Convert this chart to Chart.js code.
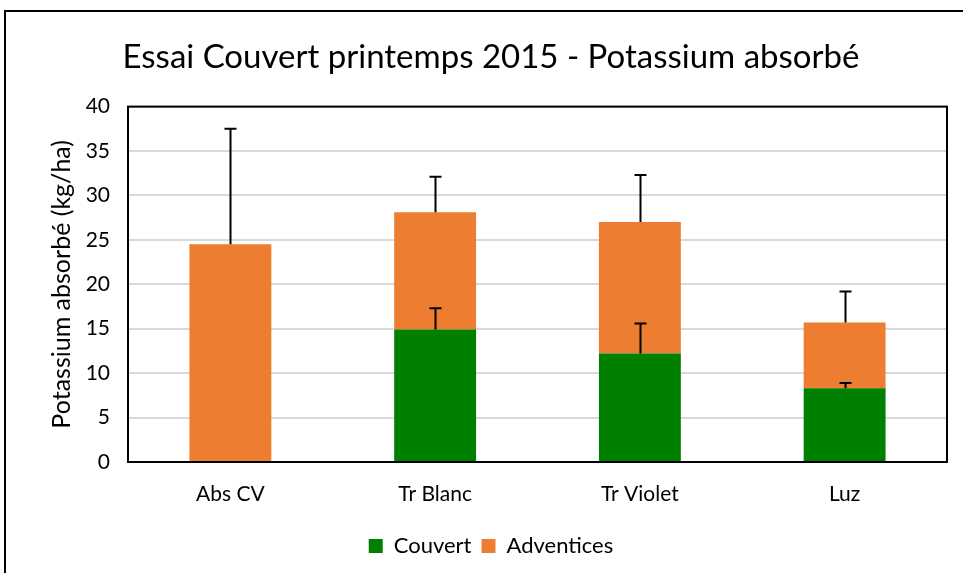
<!DOCTYPE html>
<html>
<head>
<meta charset="utf-8">
<script src="https://cdn.jsdelivr.net/npm/chart.js@4.4.1/dist/chart.umd.min.js"></script>
<style>
  html, body { margin: 0; padding: 0; overflow: hidden; background: #fff; width: 963px; height: 573px; }
  #frame { position: absolute; left: 4px; top: 10px; width: 1200px; height: 800px; border: 2px solid #000; box-sizing: border-box; }
  #c { position: absolute; left: 5px; top: 11px; }
</style>
</head>
<body>
<div id="frame"></div>
<canvas id="c" width="972" height="562"></canvas>
<script>
const categories = ['Abs CV', 'Tr Blanc', 'Tr Violet', 'Luz'];
const couvert = [0, 14.9, 12.2, 8.3];
const adventices = [24.5, 13.2, 14.8, 7.4];
const couvertErr = [0, 2.4, 3.4, 0.6];
const adventicesErr = [13.0, 4.0, 5.3, 3.5];
const yMin = 0, yMax = 40, yStep = 5;
const titleText = 'Essai Couvert printemps 2015 - Potassium absorbé';
const yTitleText = 'Potassium absorbé (kg/ha)';

const FONT = 'Lato';

const errorBarPlugin = {
  id: 'errorBars',
  afterDatasetsDraw(chart) {
    const ctx = chart.ctx;
    const yScale = chart.scales.y;
    ctx.save();
    ctx.strokeStyle = '#000';
    ctx.lineWidth = 2;
    chart.data.datasets.forEach((ds, di) => {
      const meta = chart.getDatasetMeta(di);
      const errs = ds.errors || [];
      meta.data.forEach((bar, i) => {
        const e = errs[i];
        if (!e) return;
        const topVal = yScale.getValueForPixel(bar.y);
        const yEnd = yScale.getPixelForValue(topVal + e);
        const x = Math.round(bar.x) + 0.5;
        ctx.beginPath();
        ctx.moveTo(x, bar.y);
        ctx.lineTo(x, yEnd);
        ctx.moveTo(x - 6, yEnd);
        ctx.lineTo(x + 6, yEnd);
        ctx.stroke();
      });
    });
    // plot frame
    const a = chart.chartArea;
    ctx.lineWidth = 2;
    ctx.strokeRect(a.left, a.top, a.right - a.left, a.bottom - a.top);
    ctx.restore();
  }
};

new Chart(document.getElementById('c'), {
  type: 'bar',
  data: {
    labels: categories,
    datasets: [
      { label: 'Couvert', data: couvert, errors: couvertErr, backgroundColor: '#008000', borderWidth: 0 },
      { label: 'Adventices', data: adventices, errors: adventicesErr, backgroundColor: '#ED7D31', borderWidth: 0 }
    ]
  },
  options: {
    responsive: false,
    animation: false,
    devicePixelRatio: 1,
    layout: { padding: { left: 30, right: 30, top: 0, bottom: 6 } },
    datasets: { bar: { categoryPercentage: 1.0, barPercentage: 0.4 } },
    plugins: {
      title: {
        display: true,
        text: titleText,
        color: '#000',
        font: { family: FONT, size: 33, weight: 'normal' },
        padding: { top: 27, bottom: 29 }
      },
      legend: {
        position: 'bottom',
        labels: {
          color: '#000',
          font: { family: FONT, size: 22 },
          boxWidth: 14,
          boxHeight: 14,
          padding: 10
        }
      },
      tooltip: { enabled: false }
    },
    scales: {
      x: {
        stacked: true,
        grid: { display: false, drawTicks: false },
        border: { display: false },
        ticks: { color: '#000', font: { family: FONT, size: 21 }, padding: 20 },
        afterFit(s) { s.height = 63; }
      },
      y: {
        stacked: true,
        min: yMin,
        max: yMax,
        grid: { color: '#d9d9d9', lineWidth: 2, drawTicks: false },
        border: { display: false },
        ticks: { stepSize: yStep, color: '#000', font: { family: FONT, size: 21 }, padding: 18 },
        title: {
          display: true,
          text: yTitleText,
          color: '#000',
          font: { family: FONT, size: 25 },
          padding: { top: 12, bottom: 0 }
        },
        afterFit(s) { s.width = 93; }
      }
    }
  },
  plugins: [errorBarPlugin]
});
</script>
</body>
</html>
